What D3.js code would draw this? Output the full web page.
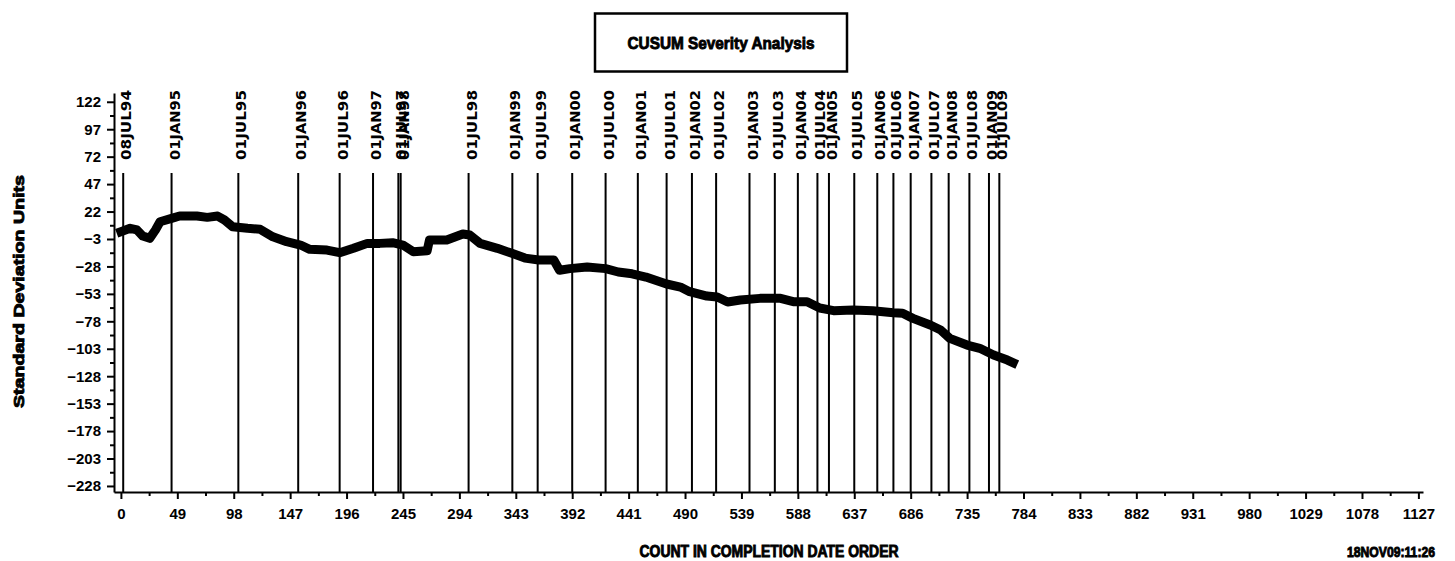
<!DOCTYPE html>
<html><head><meta charset="utf-8">
<script src="https://cdn.jsdelivr.net/npm/d3@7"></script>
<style>
html,body{margin:0;padding:0;background:#fff;}
svg{display:block;}
</style></head>
<body>
<svg id="chart" width="1455" height="561"></svg>
<script>
// ---- data ----
const counts = [0, 8, 14, 19, 25, 30, 34, 44, 51, 66, 75, 84, 90, 97, 110, 121, 132, 144, 156, 164, 179, 190, 202, 214, 225, 236, 245, 254, 266, 268, 283, 297, 303, 312, 327, 339, 351, 363, 376, 381, 390, 405, 421, 432, 444, 456, 474, 486, 494, 509, 518, 527, 538, 555, 573, 584, 596, 607, 619, 636, 653, 671, 679, 688, 703, 712, 720, 735, 746, 758, 770, 775];
const cusum = [3.6, 6.7, 5.2, -0.3, -2.4, 5.2, 12.7, 15.8, 17.9, 17.9, 16.7, 17.9, 14.3, 8.2, 6.7, 5.8, -1.0, -5.5, -8.5, -12.4, -13.1, -15.5, -11.5, -7.0, -7.0, -6.4, -8.5, -14.6, -13.7, -4.0, -4.0, 1.5, 0.6, -7.0, -11.5, -15.8, -20.4, -22.2, -22.2, -31.5, -30.0, -28.5, -30.0, -33.1, -34.7, -37.7, -44.0, -46.8, -51.0, -55.0, -55.9, -60.4, -58.6, -57.1, -57.1, -60.1, -60.1, -65.9, -68.3, -67.7, -68.3, -70.2, -70.7, -75.3, -81.4, -85.9, -93.5, -99.6, -102.6, -108.7, -113.3, -115.7];

const refDates = ["08JUL94","01JAN95","01JUL95","01JAN96","01JUL96","01JAN97","01JUL97","01JAN98","01JUL98","01JAN99","01JUL99","01JAN00","01JUL00","01JAN01","01JUL01","01JAN02","01JUL02","01JAN03","01JUL03","01JAN04","01JUL04","01JAN05","01JUL05","01JAN06","01JUL06","01JAN07","01JUL07","01JAN08","01JUL08","01JAN09","01JUL09"];
const refCounts = [2, 44, 102, 154, 190, 219, 241, 243, 302, 340, 362, 392, 421, 449, 474, 496, 517, 546, 568, 588, 605, 615, 637, 657, 671, 686, 704, 719, 737, 754, 763];

const xTicks = [0, 49, 98, 147, 196, 245, 294, 343, 392, 441, 490, 539, 588, 637, 686, 735, 784, 833, 882, 931, 980, 1029, 1078, 1127];
const yTicks = [122, 97, 72, 47, 22, -3, -28, -53, -78, -103, -128, -153, -178, -203, -228];

const titleText = "CUSUM Severity Analysis";
const xLabel = "COUNT IN COMPLETION DATE ORDER";
const yLabel = "Standard Deviation Units";
const stamp = "18NOV09:11:26";

// ---- scales ----
const svg = d3.select("#chart");
const x = d3.scaleLinear().domain([-6, 1131]).range([114, 1423]);
const y = d3.scaleLinear().domain([-233.5, 130]).range([492, 93]);

const xMinor = xTicks.map(v => v + 24.5).filter(v => v < 1131);
const yMinor = yTicks.slice(1).map(v => v + 12.5);

const tickFont = "'Liberation Sans', Arial, sans-serif";
const heavy = "'Liberation Sans', Arial, sans-serif";

// minor ticks
svg.append("g").attr("transform", "translate(0,492)")
  .call(d3.axisBottom(x).tickValues(xMinor).tickSize(4).tickSizeOuter(0).tickFormat(""))
  .call(g => g.select(".domain").remove())
  .call(g => g.selectAll("line").attr("stroke-width", 2));
svg.append("g").attr("transform", "translate(114,0)")
  .call(d3.axisLeft(y).tickValues(yMinor).tickSize(4).tickSizeOuter(0).tickFormat(""))
  .call(g => g.select(".domain").remove())
  .call(g => g.selectAll("line").attr("stroke-width", 2));

// major axes
const gx = svg.append("g").attr("transform", "translate(0,492)")
  .call(d3.axisBottom(x).tickValues(xTicks).tickSize(7).tickSizeOuter(0).tickPadding(9).tickFormat(d3.format("d")));
gx.select(".domain").attr("stroke-width", 2);
gx.selectAll("line").attr("stroke-width", 2);
gx.selectAll("text").attr("font-family", tickFont).attr("font-size", 15).attr("font-weight", "bold").attr("fill", "#000");

const gy = svg.append("g").attr("transform", "translate(114,0)")
  .call(d3.axisLeft(y).tickValues(yTicks).tickSize(7).tickSizeOuter(0).tickPadding(6).tickFormat(d3.format("d")));
gy.select(".domain").attr("stroke-width", 2);
gy.selectAll("line").attr("stroke-width", 2);
gy.selectAll("text").attr("font-family", tickFont).attr("font-size", 15).attr("font-weight", "bold").attr("fill", "#000");

// reference lines
svg.append("g").selectAll("line").data(refCounts).join("line")
  .attr("x1", d => x(d)).attr("x2", d => x(d))
  .attr("y1", 173).attr("y2", 492)
  .attr("stroke", "#000").attr("stroke-width", 2);

svg.append("g").selectAll("text").data(refDates).join("text")
  .attr("transform", (d, i) => `translate(${x(refCounts[i]) + 8},160) rotate(-90)`)
  .attr("font-family", "'DejaVu Sans', sans-serif")
  .attr("font-weight", "bold")
  .attr("font-size", 13.5)
  .attr("textLength", 70).attr("lengthAdjust", "spacingAndGlyphs")
  .text(d => d);

// data line
const line = d3.line().x((d, i) => x(counts[i])).y(d => y(d));
svg.append("path").datum(cusum)
  .attr("d", line)
  .attr("fill", "none").attr("stroke", "#000")
  .attr("stroke-width", 9).attr("stroke-linejoin", "round").attr("stroke-linecap", "square");

// title
svg.append("rect").attr("x", 595).attr("y", 13.5).attr("width", 252).attr("height", 58)
  .attr("fill", "none").attr("stroke", "#000").attr("stroke-width", 2.5);
svg.append("text").attr("x", 721).attr("y", 49).attr("text-anchor", "middle")
  .attr("font-family", heavy).attr("font-weight", "bold")
  .attr("stroke", "#000").attr("stroke-width", 0.9)
  .attr("font-size", 17).attr("textLength", 187).attr("lengthAdjust", "spacingAndGlyphs")
  .text(titleText);

// axis labels
svg.append("text").attr("x", 769).attr("y", 557).attr("text-anchor", "middle")
  .attr("font-family", heavy).attr("font-weight", "bold")
  .attr("stroke", "#000").attr("stroke-width", 0.9)
  .attr("font-size", 16).attr("textLength", 259).attr("lengthAdjust", "spacingAndGlyphs")
  .text(xLabel);

svg.append("text").attr("transform", "translate(24,291.5) rotate(-90)").attr("text-anchor", "middle")
  .attr("font-family", heavy).attr("font-weight", "bold")
  .attr("stroke", "#000").attr("stroke-width", 0.9)
  .attr("font-size", 15.5).attr("textLength", 233).attr("lengthAdjust", "spacingAndGlyphs")
  .text(yLabel);

svg.append("text").attr("x", 1435).attr("y", 557).attr("text-anchor", "end")
  .attr("font-family", heavy).attr("font-weight", "bold")
  .attr("stroke", "#000").attr("stroke-width", 0.9)
  .attr("font-size", 14).attr("textLength", 88).attr("lengthAdjust", "spacingAndGlyphs")
  .text(stamp);
</script>
</body></html>
